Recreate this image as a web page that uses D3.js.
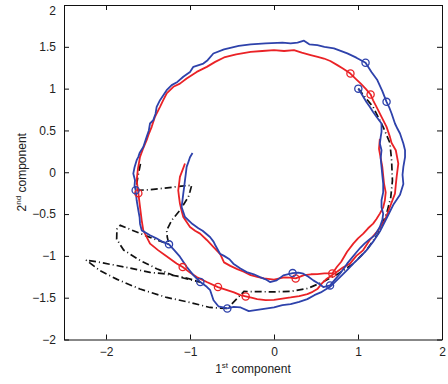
<!DOCTYPE html>
<html>
<head>
<meta charset="utf-8">
<script src="https://cdn.jsdelivr.net/npm/d3@7"></script>
<style>
  body { margin: 0; background: #fff; }
  svg text { font-family: "Liberation Sans", Arial, sans-serif; fill: #222; }
</style>
</head>
<body>
<svg id="chart" width="448" height="384"></svg>
<script>
// tick values
var xTicks = [-2, -1, 0, 1, 2];
var yTicks = [-2, -1.5, -1, -0.5, 0, 0.5, 1, 1.5, 2];

// outer blue loop
var blueOuter = [
  [-0.556,-1.629],[-0.48,-1.61],[-0.397,-1.617],[-0.3,-1.66],[-0.2,-1.645],[-0.1,-1.63],[0,-1.617],
  [0.1,-1.59],[0.198,-1.577],[0.3,-1.55],[0.397,-1.517],[0.48,-1.47],[0.556,-1.437],[0.667,-1.37],
  [0.786,-1.254],[0.87,-1.17],[0.944,-1.093],[1.03,-1.01],[1.10,-0.934],[1.18,-0.83],[1.26,-0.71],
  [1.34,-0.55],[1.42,-0.39],[1.5,-0.27],[1.54,-0.14],[1.53,-0.03],[1.54,0.064],[1.56,0.18],[1.56,0.263],
  [1.54,0.343],[1.5,0.463],[1.47,0.52],[1.44,0.583],[1.40,0.703],[1.37,0.78],[1.34,0.842],[1.29,0.97],
  [1.23,1.102],[1.16,1.2],[1.09,1.31],[0.98,1.37],[0.873,1.421],[0.714,1.481],[0.6,1.5],[0.516,1.52],
  [0.42,1.53],[0.357,1.573],[0.28,1.55],[0.198,1.54],[0.1,1.55],[0.04,1.548],[-0.1,1.54],[-0.278,1.53],
  [-0.42,1.51],[-0.595,1.47],[-0.722,1.42],[-0.79,1.34],[-0.841,1.30],[-0.96,1.261],[-1.0,1.2],
  [-1.08,1.142],[-1.15,1.08],[-1.218,1.042],[-1.278,0.982],[-1.357,0.862],[-1.397,0.782],[-1.41,0.7],
  [-1.437,0.623],[-1.476,0.583],[-1.49,0.5],[-1.516,0.423],[-1.556,0.303],[-1.6,0.23],[-1.615,0.184],
  [-1.635,0.144],[-1.66,0.06],[-1.675,-0.016],[-1.655,-0.096],[-1.66,-0.16],[-1.647,-0.216],
  [-1.635,-0.335],[-1.615,-0.455],[-1.6,-0.54],[-1.595,-0.615],[-1.575,-0.695],[-1.476,-0.754],
  [-1.40,-0.79],[-1.33,-0.83],[-1.25,-0.862],[-1.18,-0.94],[-1.12,-1.01],[-1.04,-1.13],[-0.96,-1.23],
  [-0.877,-1.313],[-0.8,-1.37],[-0.76,-1.41],[-0.74,-1.47],[-0.72,-1.53],[-0.66,-1.605],[-0.556,-1.629]
];

// inner blue path (hook to top right)
var blueInner = [
  [-0.97,0.23],[-1.0,0.18],[-1.02,0.12],[-1.04,0.064],[-1.05,-0.02],[-1.06,-0.096],[-1.07,-0.18],
  [-1.08,-0.255],[-1.09,-0.34],[-1.1,-0.415],[-1.06,-0.535],[-0.97,-0.62],[-0.9,-0.67],[-0.85,-0.70],
  [-0.762,-0.775],[-0.72,-0.83],[-0.70,-0.87],[-0.643,-0.974],[-0.595,-1.0],[-0.53,-1.04],[-0.484,-1.093],
  [-0.4,-1.15],[-0.325,-1.194],[-0.24,-1.22],[-0.167,-1.254],[-0.1,-1.28],[-0.048,-1.313],[0.032,-1.293],
  [0.111,-1.233],[0.16,-1.22],[0.222,-1.206],[0.29,-1.2],[0.349,-1.213],[0.41,-1.25],[0.468,-1.293],
  [0.53,-1.33],[0.587,-1.373],[0.667,-1.353],[0.72,-1.29],[0.78,-1.22],[0.84,-1.14],[0.88,-1.08],
  [0.984,-0.954],[1.03,-0.9],[1.08,-0.85],[1.14,-0.8],[1.20,-0.755],[1.26,-0.655],[1.29,-0.57],
  [1.30,-0.495],[1.28,-0.42],[1.28,-0.335],[1.3,-0.24],[1.30,-0.136],[1.29,-0.04],[1.28,0.064],
  [1.27,0.17],[1.28,0.263],[1.26,0.343],[1.27,0.42],[1.28,0.483],[1.28,0.583],[1.22,0.663],
  [1.18,0.72],[1.14,0.782],[1.1,0.84],[1.063,0.902],[1.004,1.0]
];

// outer red loop
var redOuter = [
  [-1.556,-0.695],[-1.476,-0.854],[-1.377,-0.934],[-1.3,-0.99],[-1.238,-1.034],[-1.16,-1.09],
  [-1.087,-1.134],[-1.0,-1.2],[-0.92,-1.254],[-0.8,-1.313],[-0.667,-1.373],[-0.595,-1.397],
  [-0.476,-1.437],[-0.4,-1.47],[-0.337,-1.485],[-0.27,-1.5],[-0.2,-1.517],[-0.1,-1.53],[0,-1.525],
  [0.1,-1.51],[0.198,-1.497],[0.3,-1.48],[0.397,-1.457],[0.46,-1.43],[0.516,-1.397],[0.57,-1.33],
  [0.62,-1.28],[0.746,-1.194],[0.82,-1.14],[0.905,-1.093],[0.98,-1.0],[1.06,-0.934],[1.14,-0.81],
  [1.24,-0.695],[1.32,-0.575],[1.38,-0.415],[1.44,-0.255],[1.45,-0.15],[1.46,-0.056],[1.48,0.104],
  [1.45,0.263],[1.40,0.35],[1.38,0.423],[1.34,0.543],[1.28,0.663],[1.22,0.782],[1.18,0.86],
  [1.15,0.93],[1.09,1.0],[1.03,1.062],[0.97,1.12],[0.91,1.18],[0.82,1.24],[0.754,1.281],[0.67,1.33],
  [0.595,1.36],[0.52,1.38],[0.437,1.401],[0.33,1.43],[0.238,1.461],[0.12,1.45],[0,1.461],[-0.14,1.45],
  [-0.278,1.44],[-0.45,1.41],[-0.595,1.373],[-0.7,1.32],[-0.80,1.26],[-0.92,1.2],[-1.04,1.122],
  [-1.12,1.06],[-1.198,1.022],[-1.278,0.942],[-1.32,0.86],[-1.357,0.782],[-1.417,0.663],[-1.456,0.543],
  [-1.49,0.46],[-1.516,0.383],[-1.56,0.28],[-1.595,0.184],[-1.62,0.04],[-1.635,-0.096],[-1.615,-0.25],
  [-1.595,-0.415],[-1.575,-0.575],[-1.556,-0.695]
];

// inner red path (hook to right side)
var redInner = [
  [-1.06,0.104],[-1.08,0.05],[-1.12,-0.056],[-1.13,-0.14],[-1.14,-0.216],[-1.13,-0.3],[-1.12,-0.375],
  [-1.1,-0.46],[-1.08,-0.535],[-1.0,-0.655],[-0.94,-0.7],[-0.88,-0.734],[-0.8,-0.81],[-0.72,-0.894],
  [-0.64,-0.98],[-0.595,-1.078],[-0.52,-1.12],[-0.437,-1.158],[-0.36,-1.19],[-0.278,-1.23],[-0.2,-1.25],
  [-0.119,-1.27],[0,-1.285],[0.119,-1.257],[0.19,-1.26],[0.258,-1.27],[0.357,-1.23],[0.44,-1.22],
  [0.516,-1.218],[0.6,-1.21],[0.694,-1.21],[0.75,-1.13],[0.80,-1.07],[0.87,-0.95],[0.944,-0.854],
  [1.0,-0.79],[1.063,-0.734],[1.12,-0.67],[1.18,-0.614],[1.22,-0.56],[1.26,-0.495],[1.3,-0.42],
  [1.32,-0.335],[1.33,-0.24],[1.31,-0.136],[1.30,-0.04],[1.29,0.06],[1.27,0.17],[1.25,0.28],[1.26,0.4]
];

// black dash-dot reference path
var meanPath = [
  [-1.59,0.1],[-1.62,-0.05],[-1.647,-0.216],[-1.5,-0.21],[-1.3,-0.19],[-1.1,-0.165],[-0.98,-0.156],
  [-1.0,-0.23],[-1.02,-0.296],[-1.12,-0.455],[-1.218,-0.575],[-1.278,-0.695],[-1.27,-0.78],[-1.25,-0.862],
  [-1.437,-0.794],[-1.635,-0.715],[-1.83,-0.635],[-1.87,-0.68],[-1.873,-0.8],[-1.79,-0.93],[-1.595,-1.054],
  [-1.397,-1.153],[-1.198,-1.233],[-1.0,-1.285],[-0.877,-1.313],[-1.08,-1.254],[-1.32,-1.213],
  [-1.476,-1.198],[-1.754,-1.138],[-2.07,-1.078],[-2.238,-1.05],[-2.07,-1.178],[-1.873,-1.278],
  [-1.595,-1.397],[-1.278,-1.497],[-1.0,-1.557],[-0.762,-1.617],[-0.556,-1.629],[-0.45,-1.52],
  [-0.357,-1.425],[-0.2,-1.428],[0,-1.43],[0.2,-1.425],[0.4,-1.39],[0.587,-1.31],[0.766,-1.213],
  [0.944,-1.093],[1.10,-0.934],[1.24,-0.734],[1.34,-0.495],[1.39,-0.3],[1.41,-0.1],[1.40,0.14],
  [1.38,0.35],[1.30,0.54],[1.18,0.78],[1.004,1.0]
];

var blueMarks = [[-1.647,-0.216],[-1.25,-0.862],[-0.877,-1.313],[-0.556,-1.629],[0.222,-1.206],
  [0.667,-1.353],[1.004,1.0],[1.09,1.31],[1.34,0.842]];
var redMarks = [[-1.615,-0.25],[-1.087,-1.134],[-0.667,-1.373],[-0.337,-1.485],[0.258,-1.27],
  [0.694,-1.21],[0.91,1.18],[1.15,0.93]];

var blue = '#2e42ab', red = '#ea2226';

var svg = d3.select('#chart');
var mLeft = 64, mRight = 442, mTop = 5, mBottom = 339.5;

var x = d3.scaleLinear().domain([-2.5, 2]).range([mLeft, mRight]);
var y = d3.scaleLinear().domain([-2, 2]).range([mBottom, mTop]);

var fmt = d3.format('~g');

// axes, ticks pointing inward like matlab
svg.append('g').attr('transform', 'translate(0,' + mBottom + ')')
  .call(d3.axisBottom(x).tickValues(xTicks).tickSizeInner(-5).tickSizeOuter(0).tickPadding(8).tickFormat(fmt));
svg.append('g').attr('transform', 'translate(0,' + mTop + ')')
  .call(d3.axisTop(x).tickValues(xTicks).tickSizeInner(-5).tickSizeOuter(0).tickFormat(''));
var yAxis = svg.append('g').attr('transform', 'translate(' + mLeft + ',0)')
  .call(d3.axisLeft(y).tickValues(yTicks).tickSizeInner(-5).tickSizeOuter(0).tickPadding(8).tickFormat(fmt));
svg.append('g').attr('transform', 'translate(' + mRight + ',0)')
  .call(d3.axisRight(y).tickValues(yTicks).tickSizeInner(-5).tickSizeOuter(0).tickFormat(''));

svg.selectAll('.domain').attr('stroke', '#111');
svg.selectAll('.tick line').attr('stroke', '#111');
svg.selectAll('.tick text').attr('font-size', 12).attr('fill', '#222')
  .attr('font-family', '"Liberation Sans", Arial, sans-serif');
// keep the top label inside the page
yAxis.selectAll('.tick text').filter(function(d) { return d === 2; }).attr('dy', '0.75em');

var line = d3.line().x(function(d) { return x(d[0]); }).y(function(d) { return y(d[1]); });

var plot = svg.append('g');

plot.append('path').datum(meanPath).attr('d', line)
  .attr('fill', 'none').attr('stroke', '#111').attr('stroke-width', 1.7)
  .attr('stroke-dasharray', '7,3,1,3');

[[redOuter, red], [redInner, red], [blueOuter, blue], [blueInner, blue]].forEach(function(s) {
  plot.append('path').datum(s[0]).attr('d', line)
    .attr('fill', 'none').attr('stroke', s[1]).attr('stroke-width', 1.8)
    .attr('stroke-linejoin', 'round');
});

function marks(data, color) {
  plot.selectAll(null).data(data).enter().append('circle')
    .attr('cx', function(d) { return x(d[0]); })
    .attr('cy', function(d) { return y(d[1]); })
    .attr('r', 3.6)
    .attr('fill', 'none').attr('stroke', color).attr('stroke-width', 1.3);
}
marks(redMarks, red);
marks(blueMarks, blue);

// axis labels
var xl = svg.append('text').attr('x', (mLeft + mRight) / 2).attr('y', 373)
  .attr('text-anchor', 'middle').attr('font-size', 12);
xl.append('tspan').text('1');
xl.append('tspan').attr('font-size', 8).attr('dy', -5).text('st');
xl.append('tspan').attr('dy', 5).text(' component');

var yl = svg.append('text')
  .attr('transform', 'translate(26,' + (mTop + mBottom) / 2 + ') rotate(-90)')
  .attr('text-anchor', 'middle').attr('font-size', 12);
yl.append('tspan').text('2');
yl.append('tspan').attr('font-size', 8).attr('dy', -5).text('nd');
yl.append('tspan').attr('dy', 5).text(' component');
</script>
</body>
</html>
